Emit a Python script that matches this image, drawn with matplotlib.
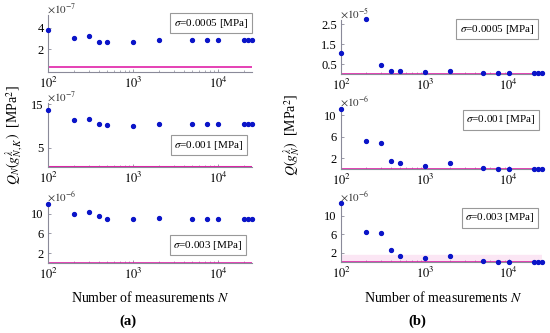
import matplotlib
matplotlib.use("Agg")
import matplotlib.pyplot as plt
import numpy as np

N = [100, 200, 300, 400, 500, 1000, 2000, 5000, 7500, 10000, 20000, 22500, 25000]

# left column (a): Q_N(g_{N,K}) mantissas
a1 = [3.78, 3.07, 3.23, 2.68, 2.65, 2.68, 2.92, 2.92, 2.92, 2.92, 2.92, 2.92, 2.92]   # x1e-7
a2 = [13.7, 11.35, 11.7, 10.35, 10.1, 10.0, 10.4, 10.4, 10.4, 10.4, 10.4, 10.4, 10.4]  # x1e-7
a3 = [12.0, 10.0, 10.3, 9.5, 9.0, 8.9, 9.07, 9.0, 9.0, 9.0, 8.95, 8.95, 8.95]  # x1e-6
# right column (b): Q(g_N)
b1 = [1.08, 2.77, 0.47, 0.13, 0.13, 0.08, 0.13, 0.03, 0.03, 0.03, 0.03, 0.03, 0.03]  # x1e-5
b2 = [11.1, 5.1, 4.9, 1.46, 1.2, 0.5, 1.13, 0.1, 0.08, 0.08, 0.08, 0.08, 0.08]  # x1e-6
b3 = [12.6, 6.46, 6.25, 2.6, 1.2, 0.83, 1.3, 0.2, 0.05, 0.05, 0.1, 0.1, 0.1]  # x1e-6

ref_a = [0.35, 0.5, 0.05]
ref_b = [0.02, 0.05, 0.05]
exps_a = [-7, -7, -6]
exps_b = [-5, -6, -6]
sigmas = ["0.0005", "0.001", "0.003"]

ticks_a = [[2, 4], [5, 15], [2, 6, 10]]
ticks_b = [[0.5, 1.5, 2.5], [2, 6, 10], [2, 6, 10]]
ylims_a = [(-0.1, 5.2), (0.5, 15.3), (0, 12.2)]
ylims_b = [(0, 2.72), (0, 11.3), (0, 12.7)]

plt.rcParams['font.family'] = ['Liberation Serif', 'DejaVu Serif']
plt.rcParams['mathtext.fontset'] = 'stix'

W, H = 550, 333
fig = plt.figure(figsize=(5.5, 3.33), dpi=100)

def add_ax(x0, x1, ytop, ybot):
    return fig.add_axes([x0 / W, 1 - ybot / H, (x1 - x0) / W, (ybot - ytop) / H])

pos_a = [(15, 72), (103, 167), (203, 263)]
pos_b = [(20, 74), (108, 169), (203, 262)]
box_a = [(211, 23), (209, 145), (208, 245)]
box_b = [(497, 29), (501, 120), (500, 218)]

spine_col = '#8a8a99'

def style(ax, ylim, ticks):
    ax.set_xscale('log')
    ax.set_xlim(100, 10 ** 4.4)
    ax.set_ylim(*ylim)
    ax.set_yticks(ticks)
    ax.set_yticklabels([("%g" % t) for t in ticks])
    ax.set_xticks([100, 1000, 10000])
    ax.set_xticklabels(['$10^2$', '$10^3$', '$10^4$'])
    for s in ['top', 'right']:
        ax.spines[s].set_visible(False)
    for s in ['left', 'bottom']:
        ax.spines[s].set_color(spine_col)
        ax.spines[s].set_linewidth(0.8)
    ax.tick_params(direction='in', labelsize=9, length=2.5, width=0.6, color=spine_col, pad=3)
    ax.tick_params(axis='x', pad=2.5)
    ax.tick_params(which='minor', direction='in', length=1.5, width=0.5, color=spine_col)
    ax.patch.set_alpha(0)

cols = [(48, 252, pos_a, box_a, exps_a, ref_a, ylims_a, ticks_a, [a1, a2, a3]),
        (341, 542, pos_b, box_b, exps_b, ref_b, ylims_b, ticks_b, [b1, b2, b3])]

for ci, (x0, x1, pos, boxes, exps, refs, ylims, ticks, series) in enumerate(cols):
    for i in range(3):
        ax = add_ax(x0, x1, pos[i][0], pos[i][1])
        style(ax, ylims[i], ticks[i])
        if ci == 1 and i == 2:
            ax.axhspan(0, 1.6, color='#fbe6f4', zorder=0)
        ax.axhline(refs[i], color='#e020a8', lw=1.2 if not (ci == 0 and i == 1) else 2.2, zorder=2)
        ax.plot(N, series[i], 'o', color='#0a14c8', ms=2.8, clip_on=False, zorder=3)
        fig.text((x0 - 1) / W, 1 - (pos[i][0] - 2) / H, r'$\times10^{%d}$' % exps[i],
                 ha='left', va='baseline', fontsize=8, color='#333333')
        bx, by = boxes[i]
        fig.text(bx / W, 1 - by / H, r'$\sigma$=%s [MPa]' % sigmas[i], ha='center', va='center',
                 fontsize=8,
                 bbox=dict(boxstyle='square,pad=0.3', fc='white', ec='#999999', lw=0.8))

fig.text(15 / W, 1 - 135 / H, r'$Q_N(g^{\lambda}_{N,K})$  [MPa$^2$]', rotation=90,
         ha='center', va='center', fontsize=10)
fig.text(292 / W, 1 - 135 / H, r'$Q(g^{\lambda}_{N})$  [MPa$^2$]', rotation=90,
         ha='center', va='center', fontsize=10)

fig.text(150 / W, 1 - 298 / H, r'Number of measurements $N$', ha='center', va='center', fontsize=10)
fig.text(443 / W, 1 - 298 / H, r'Number of measurements $N$', ha='center', va='center', fontsize=10)
fig.text(128 / W, 1 - 321 / H, '(a)', ha='center', va='center', fontsize=10.5, fontweight='bold')
fig.text(417 / W, 1 - 321 / H, '(b)', ha='center', va='center', fontsize=10.5, fontweight='bold')

fig.savefig('out.png', dpi=100)
